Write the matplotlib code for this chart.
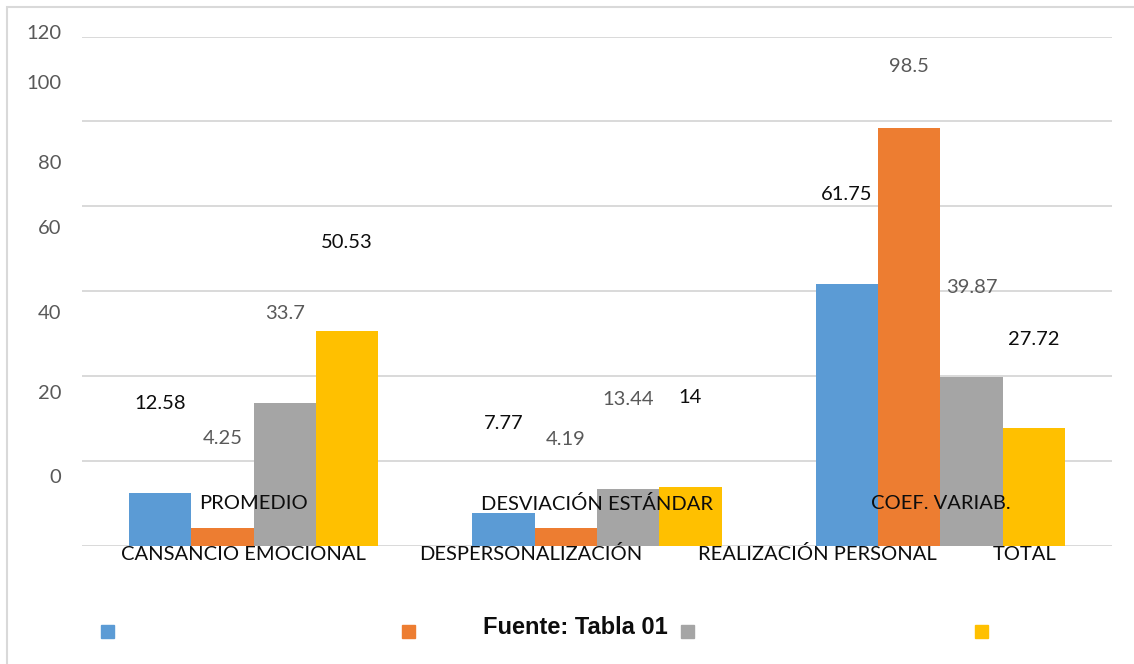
import matplotlib
matplotlib.use("Agg")
import matplotlib.pyplot as plt
from matplotlib.patches import Rectangle
import numpy as np

# statistics per dimension (Maslach burnout)
stats = ["PROMEDIO", "DESVIACIÓN ESTÁNDAR", "COEF. VARIAB."]
series_names = ["CANSANCIO EMOCIONAL", "DESPERSONALIZACIÓN", "REALIZACIÓN PERSONAL", "TOTAL"]
cansancio = [12.58, 7.77, 61.75]
despers = [4.25, 4.19, 98.5]
realizacion = [33.7, 13.44, 39.87]
total = [50.53, 14, 27.72]

colors = ["#5B9BD5", "#ED7D31", "#A5A5A5", "#FFC000"]
label_colors = ["#0D0D0D", "#595959", "#595959", "#0D0D0D"]

# y labels as they were left in the original sheet
ytick_text = ["120", "100", "80", "60", "40", "20", "0"]
ytick_pos = [120.7, 108.9, 90.1, 74.8, 54.8, 36.0, 16.2]

# where the series names and legend keys ended up
name_x = [-0.031, 0.808, 1.642, 2.245]
key_x = [107, 408, 687, 981]

plt.rcParams["font.family"] = ["Lato", "DejaVu Sans"]

fig = plt.figure(figsize=(11.34, 6.64), dpi=100)
ax = fig.add_axes([82 / 1134, 118 / 664, 1030 / 1134, 509.5 / 664])

x = np.arange(len(stats))
width = 0.1815
all_series = [cansancio, despers, realizacion, total]
for i, vals in enumerate(all_series):
    xs = x + (i - 1.5) * width
    ax.bar(xs, vals, width, color=colors[i], zorder=3)
    for xi, v in zip(xs, vals):
        ax.text(xi, min(v + 21.0, 113.0), f"{v:g}", ha="center", va="center",
                fontsize=14.5, color=label_colors[i], zorder=4)

ax.set_xlim(-0.5, 2.5)
ax.set_ylim(0, 120)
ax.set_yticks(np.arange(0, 121, 20))
ax.set_yticklabels([])
ax.tick_params(axis="both", length=0)
ax.set_xticks([])
ax.grid(axis="y", color="#D9D9D9", linewidth=1.4, zorder=0)
for s in ax.spines.values():
    s.set_visible(False)

for yp, t in zip(ytick_pos, ytick_text):
    ax.annotate(t, xy=(0, yp), xycoords=("axes fraction", "data"),
                xytext=(-15, 0), textcoords="offset points",
                ha="right", va="center", fontsize=14.5, color="#595959",
                annotation_clip=False)

# statistic names sit inside the plot
for xi, s in zip(x, stats):
    ax.text(xi, 9.9, s, ha="center", va="center", fontsize=14.5, color="#0D0D0D", zorder=5)

# series names under the axis
for xn, n in zip(name_x, series_names):
    ax.annotate(n, xy=(xn, 0), xycoords=("data", "axes fraction"),
                xytext=(0, -5.8), textcoords="offset points",
                ha="center", va="center", fontsize=14.5, color="#0D0D0D",
                annotation_clip=False)

# legend keys without text
for kx, c in zip(key_x, colors):
    fig.add_artist(Rectangle(((kx - 6.5) / 1134, (664 - 637.5) / 664), 13 / 1134, 13 / 664,
                             transform=fig.transFigure, color=c))

fig.text(575 / 1134, (664 - 628) / 664, "Fuente: Tabla 01", ha="center", va="center",
         fontsize=17, fontweight="bold", family="Liberation Sans", color="#0D0D0D")

# chart border
fig.add_artist(Rectangle((7 / 1134, -0.05), 1.2, (664 - 7) / 664 + 0.05,
                         transform=fig.transFigure, fill=False,
                         edgecolor="#D9D9D9", linewidth=1.5))

fig.savefig("out.png", dpi=100)
